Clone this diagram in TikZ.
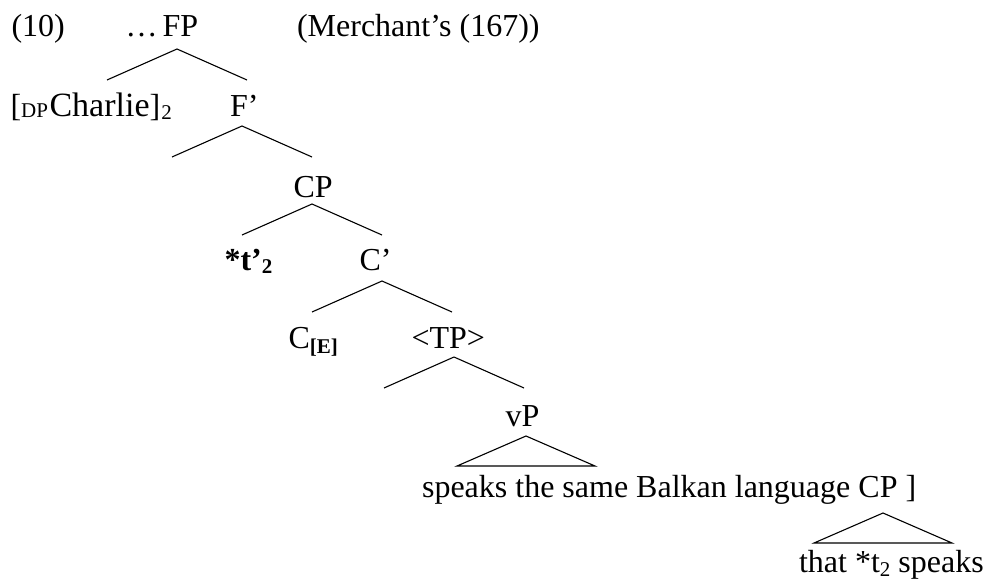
\documentclass[tikz,border=0pt]{standalone}
\usepackage{fontspec}
\setmainfont{Liberation Serif}
% small lowered index (subscripts such as DP, [E], 2)
\newcommand\lowidx[2][2pt]{\raisebox{-#1}{\fontsize{21}{21}\selectfont #2}}
\begin{document}
\begin{tikzpicture}[x=1pt,y=-1pt,line width=1.1pt,line join=miter,
  lbl/.style={anchor=base west,inner sep=0pt,font=\fontsize{32}{38}\selectfont}]
\useasboundingbox (0,0) rectangle (984,583);

% labels
\node[lbl] (ex)    at (11,37)    {(10)};
\node[lbl] (dots)  at (125,37)   {…};
\node[lbl] (fp)    at (162,37)   {FP};
\node[lbl] (src)   at (296.5,37) {(Merchant’s (167))};
\node[lbl] (dp)    at (10,117)   {[\lowidx[1pt]{DP}\kern1.5pt{\fontsize{34}{38}\selectfont Charlie}]\kern1pt\lowidx{2}};
\node[lbl] (fbar)  at (229.5,117) {F’};
\node[lbl] (cp)    at (293,197)  {CP};
\node[lbl] (tr)    at (224,270)  {\textbf{*t’\lowidx[3pt]{2}}};
\node[lbl] (cbar)  at (359,270)  {C’};
\node[lbl] (ce)    at (288,348)  {C\lowidx[5pt]{\textbf{[E]}}};
\node[lbl] (tp)    at (411,348)  {<TP>};
\node[lbl] (vp)    at (505,426)  {vP};
\node[lbl] (vpt)   at (421.5,497) {speaks the same Balkan language CP ]};
\node[lbl] (cpt)   at (798.5,572) {that *t\lowidx[4pt]{2} speaks};

% branch points
\coordinate (fp-a)   at (177,49);
\coordinate (fbar-a) at (242,126);
\coordinate (cp-a)   at (312,204);
\coordinate (cbar-a) at (382,281);
\coordinate (tp-a)   at (454,357);
\coordinate (vp-a)   at (526,436);
\coordinate (cpt-a)  at (883,513);

\foreach \c in {fp-a,fbar-a,cp-a,cbar-a,tp-a}
  \draw (\c) -- ++(-70,31) (\c) -- ++(70,31);

% triangles over unanalysed material
\foreach \c in {vp-a,cpt-a}
  \draw (\c) -- ++(-69,30) -- ++(138,0) -- cycle;
\end{tikzpicture}
\end{document}
